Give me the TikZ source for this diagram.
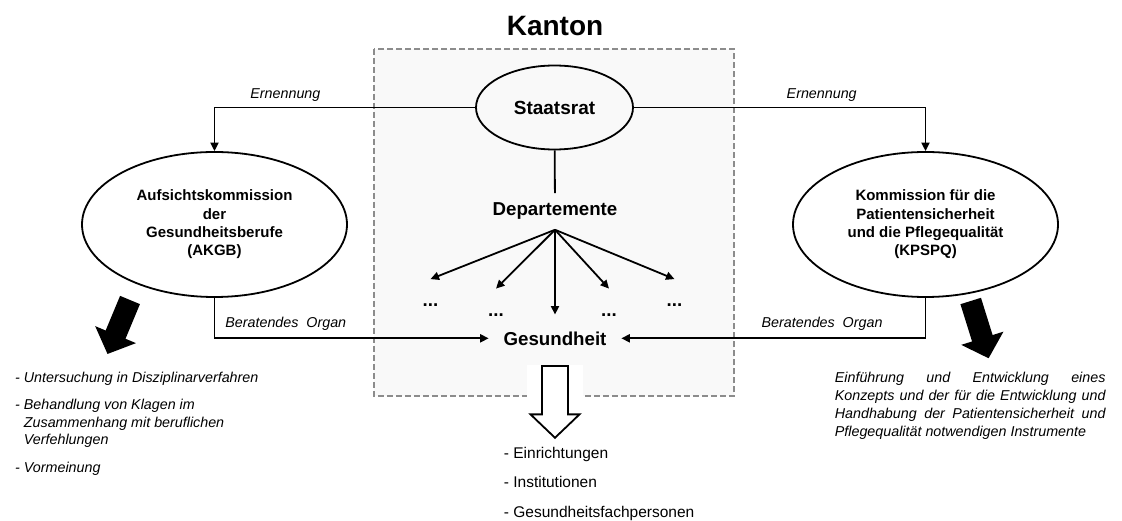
\documentclass[tikz,border=0pt]{standalone}
\usepackage{fontspec}
\setmainfont{Liberation Sans}
\usepackage{tikz}
\usetikzlibrary{arrows.meta,shapes.geometric,positioning,calc}
\definecolor{boxline}{RGB}{140,140,140}
\definecolor{boxfill}{RGB}{249,249,249}
\tikzset{>={Triangle[length=8.5pt,width=8pt]}}

\begin{document}
\begin{tikzpicture}[x=1pt,y=-1pt,line width=1.8pt,
    organ/.style={ellipse, draw, line width=1.8pt, align=center, inner sep=0pt,
        font=\fontsize{15}{18.3}\selectfont\bfseries},
    big/.style={font=\fontsize{18.7}{22}\selectfont\bfseries},
    lbl/.style={font=\fontsize{14.3}{17.5}\selectfont\itshape},
    dots/.style={big, text height=24pt, inner sep=3pt, anchor=base},
    kantonbox/.style={draw=boxline, fill=boxfill, dash pattern=on 6pt off 3pt, line width=1.6pt},
    taskarrow/.style={line width=21.5pt, -{Triangle[length=21pt,width=43pt]}},
    hollowarrow/.style={draw, fill=white, line width=1.8pt, line join=miter}]
    \useasboundingbox (0,0) rectangle (1122,521);
    \draw[kantonbox] (374,49) rectangle (734,396);
    \node[font=\fontsize{28}{32}\selectfont\bfseries, anchor=base] (kanton) at (555,36) {Kanton};

    \node[organ, minimum width=157pt, minimum height=84pt, font=\fontsize{19}{22}\selectfont\bfseries] (staatsrat) at (554.5,107.5) {Staatsrat};
    \node[organ, minimum width=265pt, minimum height=145pt] (akgb) at (214.5,224.5)
        {Aufsichtskommission\\der\\Gesundheitsberufe\\(AKGB)};
    \node[organ, minimum width=265pt, minimum height=145pt] (kpspq) at (925.5,224.5)
        {Kommission für die\\Patientensicherheit\\und die Pflegequalität\\(KPSPQ)};

    \node[big, anchor=base, inner xsep=3pt, inner ysep=9pt] (departemente) at (555,216) {Departemente};
    \node[big, anchor=base, inner xsep=14pt, inner ysep=16pt] (gesundheit) at (555,345) {Gesundheit};
    \node[dots] (d1) at (430.5,307) {...};
    \node[dots] (d2) at (496,316.5) {...};
    \node[dots] (d4) at (609,316.5) {...};
    \node[dots] (d5) at (674.5,307) {...};

    \draw (staatsrat) -- (departemente);
    \foreach \d in {d1,d2,d4,d5}
        \draw[->] (departemente.south) -- (\d.north);
    \draw[->] (departemente.south) -- (gesundheit.north);

    \draw[->] (staatsrat.west) -| node[lbl, pos=0.364, above, yshift=2pt] {Ernennung} (akgb.north);
    \draw[->] (staatsrat.east) -| node[lbl, pos=0.322, above, yshift=2pt] {Ernennung} (kpspq.north);
    \draw[->] (akgb.south) |- node[lbl, pos=0.63, above, yshift=4pt] {Beratendes\ \ Organ} (gesundheit.west);
    \draw[->] (kpspq.south) |- node[lbl, pos=0.67, above, yshift=4pt] {Beratendes\ \ Organ} (gesundheit.east);

    % Aufgaben der Kommissionen
    \coordinate (akgbout) at (130,300);
    \coordinate (akgbin) at (107.5,354);
    \coordinate (kpspqout) at (970.7,301);
    \coordinate (kpspqin) at (988.6,358.3);
    \draw[taskarrow] (akgbout) -- (akgbin);
    \draw[taskarrow] (kpspqout) -- (kpspqin);

    \node[lbl, anchor=base west, align=left, inner sep=0pt] (akgbtasks) at (14.3,472.3)
        {-~Untersuchung in Disziplinarverfahren\\[10pt]
         -~Behandlung von Klagen im\\
         \phantom{-~}Zusammenhang mit beruflichen\\
         \phantom{-~}Verfehlungen\\[10pt]
         -~Vormeinung};
    \node[anchor=base west, text width=270.6pt, align=justify, inner sep=0pt,
          font=\fontsize{14.3}{18.3}\selectfont\itshape] (kpspqtasks) at (834,382)
        {Einführung und Entwicklung eines\linebreak
         Konzepts und der für die Entwicklung und\linebreak
         Handhabung der Patientensicherheit und\linebreak
         Pflegequalität notwendigen Instrumente};

    % Gesundheit -> Adressaten
    \fill[white] (526.7,365) rectangle (582.7,438);
    \draw[hollowarrow] ($(gesundheit.south)+(-13,4)$) -- ++(0,48.3) -- ++(-11.5,0)
        -- ++(24.5,23.4) -- ++(24.5,-23.4) -- ++(-11.5,0) -- ++(0,-48.3) -- cycle;
    \node[anchor=base west, align=left, inner sep=0pt, font=\fontsize{15.5}{18}\selectfont] (targets) at (503,517)
        {-~Einrichtungen\\[11.5pt]
         -~Institutionen\\[11.5pt]
         -~Gesundheitsfachpersonen};
\end{tikzpicture}
\end{document}
